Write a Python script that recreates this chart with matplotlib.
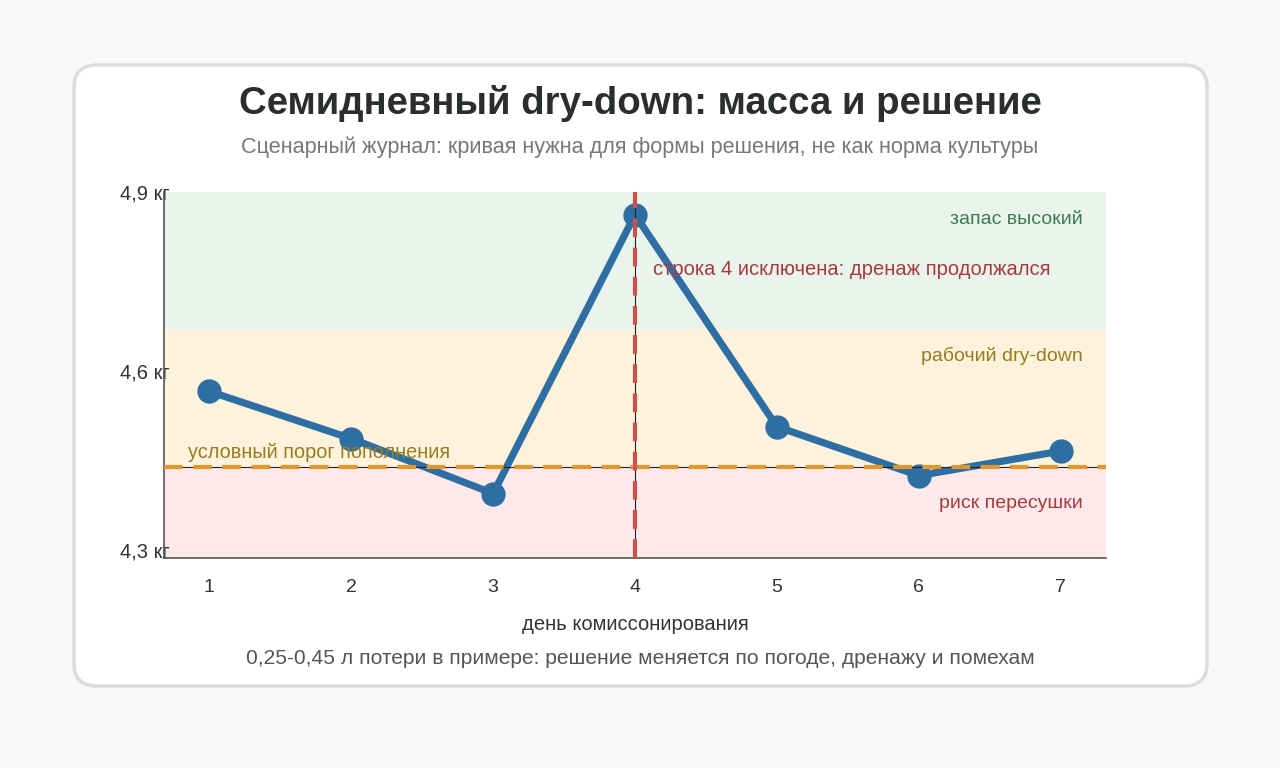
import matplotlib
matplotlib.use("Agg")
from matplotlib import pyplot as plt
from matplotlib.patches import FancyBboxPatch
import numpy as np

plt.rcParams['font.family'] = ['Liberation Sans', 'DejaVu Sans']

# данные
days = [1, 2, 3, 4, 5, 6, 7]
mass = [4.566, 4.487, 4.395, 4.862, 4.507, 4.425, 4.466]
y_ticks = [4.3, 4.6, 4.9]
y_tick_labels = ["4,3 кг", "4,6 кг", "4,9 кг"]
threshold = 4.44
band_high = 4.67
excluded_day = 4

title = "Семидневный dry-down: масса и решение"
subtitle = "Сценарный журнал: кривая нужна для формы решения, не как норма культуры"
xlabel = "день комиссонирования"
footnote = "0,25-0,45 л потери в примере: решение меняется по погоде, дренажу и помехам"

fig = plt.figure(figsize=(12.8, 7.68), dpi=100, facecolor="#f9f8f6")

# карточка
card = FancyBboxPatch((74 / 1280, (768 - 686) / 768), (1207 - 74) / 1280, (686 - 65) / 768,
                      boxstyle="round,pad=0,rounding_size=0.018",
                      transform=fig.transFigure, facecolor="white",
                      edgecolor="#dcdcd8", linewidth=2.5, mutation_aspect=1.6, zorder=-5)
fig.patches.append(card)

ax = fig.add_axes([164 / 1280, (768 - 558) / 768, (1106 - 164) / 1280, (558 - 192) / 768])
ax.set_zorder(2)
ax.set_facecolor("none")
ymin, ymax = 4.287, 4.9
ax.set_xlim(0.68, 7.32)
ax.set_ylim(ymin, ymax)

ax.axhspan(band_high, ymax, color="#e9f4ec", zorder=0, lw=0)
ax.axhspan(threshold, band_high, color="#fdf3dd", zorder=0, lw=0)
ax.axhspan(ymin, threshold, color="#fde9ea", zorder=0, lw=0)

ax.plot(days, mass, color="#2f6ea3", lw=5.2, marker="o", ms=16.5, zorder=3,
        solid_capstyle="round", solid_joinstyle="round")

ax.axhline(threshold, color="#222222", lw=0.8, zorder=4)
ax.axhline(threshold, color="#df972e", lw=3, ls=(0, (4.5, 2.5)), zorder=4)
ax.axvline(excluded_day, color="#222222", lw=0.8, zorder=4)
ax.axvline(excluded_day, color="#c9514e", lw=3, ls=(0, (4.5, 2.5)), zorder=4)

tr = ax.get_yaxis_transform()
ax.text(0.975, 4.854, "запас высокий", transform=tr,
        ha="right", va="center", fontsize=14, color="#3f7a52", zorder=5)
ax.text(0.975, 4.625, "рабочий dry-down", transform=tr,
        ha="right", va="center", fontsize=14, color="#9a7b1e", zorder=5)
ax.text(0.975, 4.378, "риск пересушки", transform=tr,
        ha="right", va="center", fontsize=14, color="#a83a3e", zorder=5)
ax.text(0.025, 4.464, "условный порог пополнения", transform=tr,
        ha="left", va="center", fontsize=14.3, color="#9a7b1e", zorder=5)
ax.text(excluded_day + 0.13, 4.771, "строка 4 исключена: дренаж продолжался",
        ha="left", va="center", fontsize=14.5, color="#a83a3e", zorder=5)

ax.set_xticks(days)
ax.set_xticklabels([str(d) for d in days])
ax.set_yticks(y_ticks)
ax.set_yticklabels(y_tick_labels)
ax.tick_params(axis="x", length=0, pad=15, labelsize=14, labelcolor="#333333")
ax.tick_params(axis="y", length=0, pad=-4, labelsize=14.5, labelcolor="#333333")
ax.set_xlabel(xlabel, fontsize=14.5, color="#333333", labelpad=14)

for s in ["top", "right"]:
    ax.spines[s].set_visible(False)
for s in ["left", "bottom"]:
    ax.spines[s].set_color("#555555")
    ax.spines[s].set_linewidth(1.2)

fig.text(640 / 1280, 1 - 103 / 768, title, ha="center", va="center",
         fontsize=27.6, fontweight="bold", color="#2b2f2b")
fig.text(640 / 1280, 1 - 147 / 768, subtitle, ha="center", va="center",
         fontsize=15.6, color="#777777")
fig.text(640 / 1280, 1 - 658 / 768, footnote, ha="center", va="center",
         fontsize=15.1, color="#555555")

fig.savefig("out.png", dpi=100, facecolor=fig.get_facecolor())
